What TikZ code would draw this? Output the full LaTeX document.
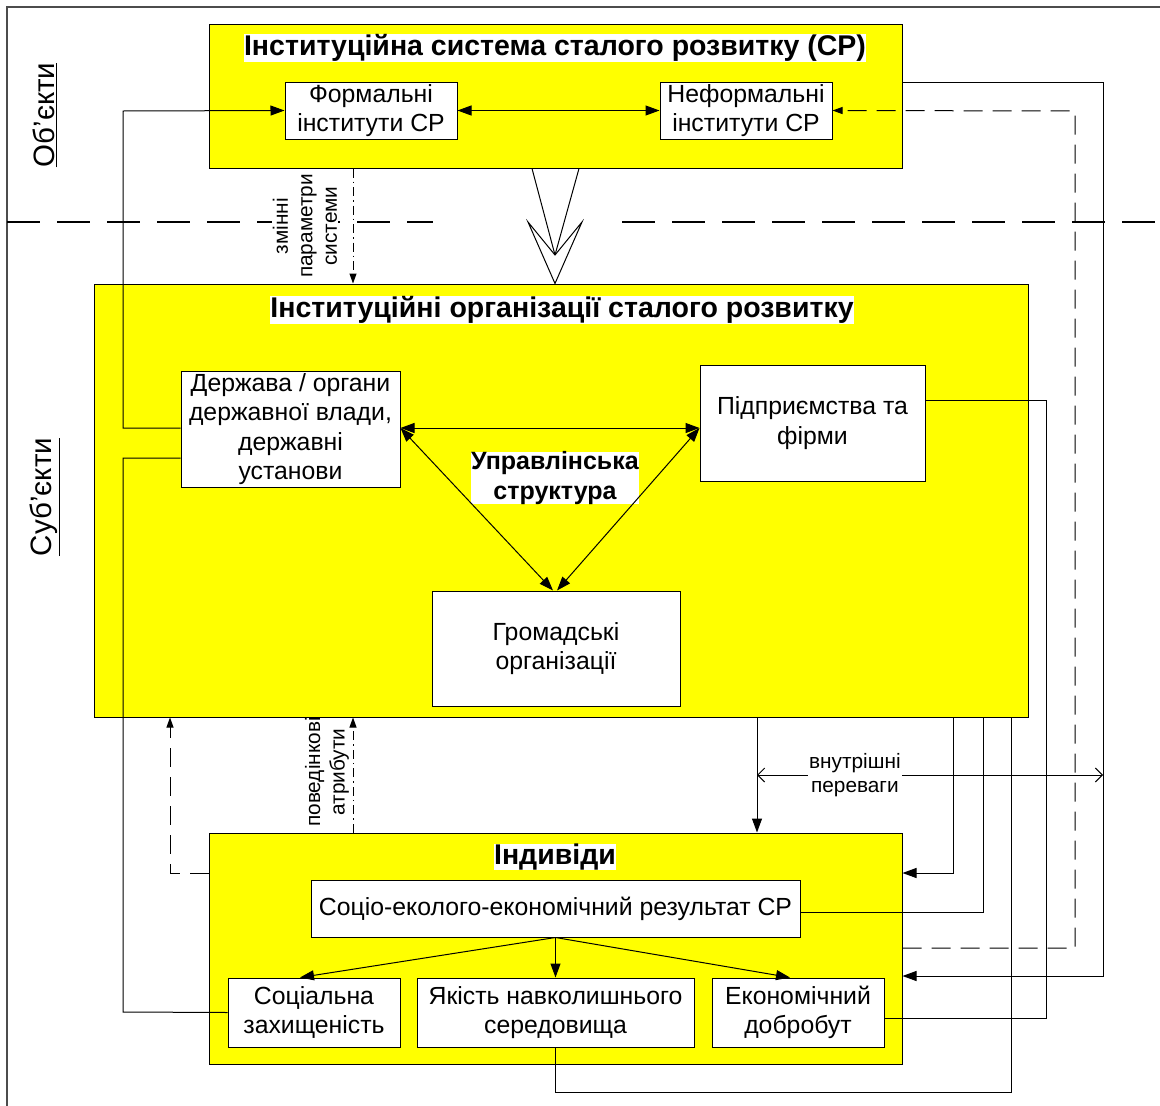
\documentclass[tikz,border=0pt]{standalone}
\usepackage{fontspec}
\setmainfont{Liberation Sans}
\usetikzlibrary{arrows.meta}
\usetikzlibrary{positioning}

\definecolor{boxyellow}{RGB}{255,255,0}

\tikzset{
  ybox/.style={draw, fill=boxyellow, line width=1pt, inner sep=0pt},
  wbox/.style={draw, fill=white, line width=1pt, align=center, inner sep=0pt,
               font=\fontsize{24.8}{29.3}\selectfont},
  ttl/.style={fill=white, inner sep=0pt, align=center,
              font=\fontsize{28.5}{31}\selectfont\bfseries},
  lbl/.style={align=center, inner sep=1pt, font=\fontsize{20.8}{24.5}\selectfont},
  side/.style={rotate=90, font=\fontsize{29.5}{32}\selectfont},
  conn/.style={line width=1pt},
  arr/.style={conn, -{Triangle[length=14pt,width=10pt]}},
  biarr/.style={conn, {Triangle[length=14pt,width=10pt]}-{Triangle[length=14pt,width=10pt]}},
  sarr/.style={-{Triangle[length=10pt,width=7pt]}},
  dashln/.style={conn, dash pattern=on 19pt off 10pt},
  dotdash/.style={conn, dash pattern=on 9pt off 4pt on 1.5pt off 4pt},
  openarr/.style={conn, {Straight Barb[length=7pt,width=14pt]}-{Straight Barb[length=7pt,width=14pt]}},
}

\begin{document}
\begin{tikzpicture}[x=1pt, y=-1pt]
\useasboundingbox (0,0) rectangle (1160,1106);

% frame and the border between objects and subjects
\draw[line width=1.2pt, gray!60!black] (7,1106) -- (7,7) -- (1160,7);
\draw[line width=1.8pt, dash pattern=on 33pt off 17pt] (7,222) -- (433,222);
\draw[line width=1.8pt, dash pattern=on 33pt off 17pt] (622,222) -- (1160,222);

\node[side] (obj) at (45,115) {\underline{Об’єкти}};
\node[side] (subj) at (45,497) {\underline{Суб’єкти}};

% institutional system
\node[ybox, minimum width=693, minimum height=144] (sys) at (555.5,96) {};
\node[ttl] (systtl) at (555,48) {Інституційна система сталого розвитку (СР)};
\node[wbox, minimum width=172, minimum height=57] (formal) at (371,110.5) {Формальні\\інститути СР};
\node[wbox, minimum width=172, minimum height=57] (informal) at (746,110.5) {Неформальні\\інститути СР};

% organisations
\node[ybox, minimum width=934, minimum height=433] (midbox) at (561,500.5) {};
\node[ttl] (midttl) at (562,310) {Інституційні організації сталого розвитку};
\node[wbox, minimum width=219, minimum height=116] (state) at (290.5,429) {Держава / органи\\державної влади,\\державні\\установи};
\node[wbox, minimum width=225, minimum height=116] (firms) at (812.5,423) {Підприємства та\\фірми};
\node[wbox, minimum width=248, minimum height=115] (civic) at (556,648.5) {Громадські\\організації};
\node[ttl, font=\fontsize{25}{29.5}\selectfont\bfseries] (mgmt) at (555,478) {Управлінська\\структура};

% individuals
\node[ybox, minimum width=693, minimum height=231] (indbox) at (555.5,948.5) {};
\node[ttl] (indttl) at (555,857) {Індивіди};
\node[wbox, minimum width=489, minimum height=57] (result) at (555.5,908.5) {Соціо-еколого-економічний результат СР};
\node[wbox, minimum width=172, minimum height=69] (social) at (314,1012.5) {Соціальна\\захищеність};
\node[wbox, minimum width=277, minimum height=69] (envq) at (555.5,1012.5) {Якість навколишнього\\середовища};
\node[wbox, minimum width=172, minimum height=69] (econ) at (798,1012.5) {Економічний\\добробут};

% system -> organisations
\draw[conn] (sys.south -| 532,0) -- (555,255) -- (sys.south -| 579,0);
\draw[conn, fill=white] (528,222) -- (midbox.north -| 555,0) -- (582,222) -- (555,255) -- cycle;
\draw[dotdash, sarr] (sys.south -| 353,0) -- (midbox.north -| 353,0);
\node[lbl, rotate=90, fill=white] (params) at (305,226) {змінні\\параметри\\системи};

% inside the system
\draw[biarr] (formal) -- (informal);
\draw[dashln, sarr] (indbox.east |- 0,948) -| (1075,111) -- (informal.east);
\draw[arr] (sys.east |- 0,82) -| (1103,976) -- (indbox.east |- 0,976);

% state links
\draw[arr] (state.west |- 0,428) -| (123,111) -- (formal.west);
\draw[conn] (state.west |- 0,458) -| (123,1012) -- (social.west);

% management structure
\draw[biarr] (state.east |- 0,428) -- (firms.west |- 0,428);
\draw[biarr] (state.east |- 0,428) -- ([xshift=-3pt]civic.north);
\draw[biarr] (firms.west |- 0,428) -- ([xshift=1pt]civic.north);

% organisations <-> individuals
\draw[arr] (midbox.south -| 757,0) -- (indbox.north -| 757,0);
\draw[openarr] (757,775) -- node[lbl, fill=white, pos=0.283] (prefs) {внутрішні\\переваги} (1103,775);
\draw[arr] (midbox.south -| 953,0) |- (indbox.east |- 0,873);
\draw[conn] (result.east |- 0,912) -| (midbox.south -| 983,0);
\draw[conn] (envq.south) -- ++(0,45) -| (midbox.south -| 1011,0);
\draw[conn] (firms.east |- 0,400) -| (1046,1018) -- (econ.east |- 0,1018);
\draw[dashln, sarr] (indbox.west |- 0,873) -| (midbox.south -| 170,0);
\draw[dotdash, sarr] (indbox.north -| 353,0) -- (midbox.south -| 353,0);
\node[lbl, rotate=90] (attrs) at (327,772) {поведінкові\\атрибути};

% results
\draw[arr] (result.south) -- ([xshift=-14pt]social.north);
\draw[arr] (result.south) -- (envq.north);
\draw[arr] (result.south) -- ([xshift=-8pt]econ.north);
\end{tikzpicture}
\end{document}
